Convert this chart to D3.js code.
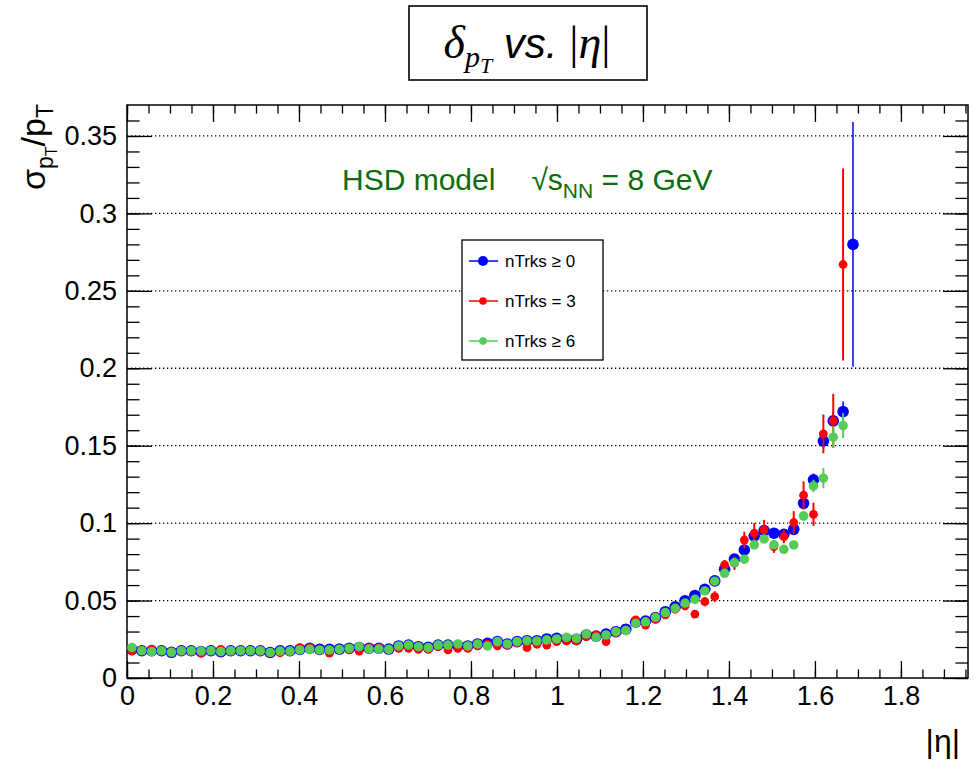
<!DOCTYPE html>
<html><head><meta charset="utf-8">
<script src="https://cdn.jsdelivr.net/npm/d3@7"></script>
<style>body{margin:0;background:#fff}svg{display:block}</style>
</head><body><svg id="c" width="974" height="760"></svg>
<script>
// ---- data ----
const eta = [0.0115,0.0345,0.0574,0.0804,0.1034,0.1264,0.1493,0.1723,0.1953,0.2182,
0.2412,0.2642,0.2872,0.3101,0.3331,0.3561,0.3791,0.4020,0.4250,0.4480,
0.4709,0.4939,0.5169,0.5399,0.5628,0.5858,0.6088,0.6318,0.6547,0.6777,
0.7007,0.7236,0.7466,0.7696,0.7926,0.8155,0.8385,0.8615,0.8845,0.9074,
0.9304,0.9534,0.9764,0.9993,1.0223,1.0453,1.0682,1.0912,1.1142,1.1372,
1.1601,1.1831,1.2061,1.2291,1.2520,1.2750,1.2980,1.3209,1.3439,1.3669,
1.3899,1.4128,1.4358,1.4588,1.4818,1.5047,1.5277,1.5507,1.5736,1.5966,
1.6196,1.6426,1.6655,1.6885];

const seriesNames = ["nTrks \u2265 0", "nTrks = 3", "nTrks \u2265 6"];

const resAll = [0.0185,0.0176,0.0176,0.0176,0.0166,0.0176,0.0176,0.0170,0.0176,0.0170,
0.0176,0.0176,0.0176,0.0176,0.0165,0.0176,0.0176,0.0185,0.0192,0.0185,
0.0185,0.0187,0.0192,0.0196,0.0192,0.0192,0.0187,0.0207,0.0213,0.0202,
0.0198,0.0213,0.0213,0.0207,0.0207,0.0220,0.0224,0.0235,0.0220,0.0235,
0.0241,0.0241,0.0252,0.0256,0.0252,0.0250,0.0278,0.0271,0.0284,0.0299,
0.0315,0.0360,0.0368,0.0390,0.0428,0.0460,0.0499,0.0533,0.0573,0.0627,
0.0702,0.0768,0.0827,0.0917,0.0952,0.0935,0.0928,0.0960,0.1128,0.1280,
0.1530,0.1660,0.1720,0.2800];
const errAll = [0.0004,0.0004,0.0004,0.0004,0.0004,0.0004,0.0004,0.0004,0.0004,0.0004,
0.0004,0.0004,0.0004,0.0004,0.0004,0.0004,0.0004,0.0004,0.0004,0.0004,
0.0004,0.0004,0.0004,0.0004,0.0004,0.0004,0.0004,0.0004,0.0004,0.0004,
0.0004,0.0004,0.0004,0.0004,0.0004,0.0004,0.0004,0.0004,0.0004,0.0004,
0.0004,0.0004,0.0004,0.0004,0.0004,0.0004,0.0004,0.0004,0.0004,0.0004,
0.0010,0.0010,0.0010,0.0010,0.0010,0.0010,0.0010,0.0012,0.0012,0.0015,
0.0020,0.0020,0.0025,0.0025,0.0030,0.0030,0.0030,0.0035,0.0040,0.0040,
0.0050,0.0060,0.0065,0.0790];

const res3 = [0.0174,0.0178,0.0187,0.0176,0.0170,0.0170,0.0170,0.0160,0.0176,0.0185,
0.0170,0.0176,0.0176,0.0170,0.0162,0.0163,0.0170,0.0196,0.0196,0.0181,
0.0160,0.0187,0.0181,0.0174,0.0196,0.0196,0.0181,0.0192,0.0192,0.0185,
0.0185,0.0202,0.0181,0.0192,0.0192,0.0207,0.0218,0.0207,0.0213,0.0228,
0.0196,0.0218,0.0213,0.0235,0.0239,0.0239,0.0267,0.0278,0.0235,0.0293,
0.0310,0.0375,0.0342,0.0379,0.0407,0.0444,0.0465,0.0413,0.0493,0.0525,
0.0730,0.0741,0.0891,0.0935,0.0956,0.0848,0.0913,0.1004,0.1180,0.1057,
0.1576,0.1660,0.2670,null];
const err3 = [0.0008,0.0008,0.0008,0.0008,0.0008,0.0008,0.0008,0.0008,0.0008,0.0008,
0.0008,0.0008,0.0008,0.0008,0.0008,0.0008,0.0008,0.0008,0.0008,0.0008,
0.0008,0.0008,0.0008,0.0008,0.0008,0.0008,0.0008,0.0008,0.0008,0.0008,
0.0008,0.0008,0.0008,0.0008,0.0008,0.0008,0.0008,0.0008,0.0008,0.0008,
0.0008,0.0008,0.0008,0.0008,0.0008,0.0008,0.0008,0.0008,0.0008,0.0008,
0.0015,0.0015,0.0015,0.0015,0.0015,0.0015,0.0020,0.0025,0.0030,0.0035,
0.0032,0.0043,0.0054,0.0065,0.0065,0.0040,0.0043,0.0073,0.0090,0.0075,
0.0125,0.0175,0.0620,null];

const res6 = [0.0196,0.0176,0.0170,0.0176,0.0166,0.0176,0.0176,0.0174,0.0176,0.0170,
0.0176,0.0176,0.0176,0.0176,0.0165,0.0174,0.0174,0.0181,0.0185,0.0181,
0.0181,0.0185,0.0192,0.0202,0.0187,0.0187,0.0185,0.0207,0.0213,0.0202,
0.0196,0.0213,0.0213,0.0220,0.0207,0.0220,0.0207,0.0235,0.0220,0.0235,
0.0241,0.0239,0.0246,0.0252,0.0263,0.0256,0.0284,0.0263,0.0278,0.0299,
0.0306,0.0353,0.0363,0.0392,0.0422,0.0450,0.0484,0.0508,0.0562,0.0625,
0.0676,0.0745,0.0767,0.0860,0.0898,0.0860,0.0831,0.0859,0.1046,0.1240,
0.1290,0.1555,0.1630,null];
const err6 = [0.0004,0.0004,0.0004,0.0004,0.0004,0.0004,0.0004,0.0004,0.0004,0.0004,
0.0004,0.0004,0.0004,0.0004,0.0004,0.0004,0.0004,0.0004,0.0004,0.0004,
0.0004,0.0004,0.0004,0.0004,0.0004,0.0004,0.0004,0.0004,0.0004,0.0004,
0.0004,0.0004,0.0004,0.0004,0.0004,0.0004,0.0004,0.0004,0.0004,0.0004,
0.0004,0.0004,0.0004,0.0004,0.0004,0.0004,0.0004,0.0004,0.0004,0.0004,
0.0010,0.0010,0.0010,0.0010,0.0010,0.0010,0.0010,0.0012,0.0012,0.0015,
0.0020,0.0020,0.0020,0.0020,0.0020,0.0020,0.0020,0.0025,0.0030,0.0040,
0.0065,0.0070,0.0080,null];

const xTicks = [0,0.2,0.4,0.6,0.8,1,1.2,1.4,1.6,1.8];
const xTickLabels = ["0","0.2","0.4","0.6","0.8","1","1.2","1.4","1.6","1.8"];
const yTicks = [0,0.05,0.1,0.15,0.2,0.25,0.3,0.35];
const yTickLabels = ["0","0.05","0.1","0.15","0.2","0.25","0.3","0.35"];

// ---- layout ----
const L = 127, R = 968, T = 105, B = 678;
const svg = d3.select("#c");
const x = d3.scaleLinear().domain([0, 1.956]).range([L, R]);
const y = d3.scaleLinear().domain([0, 0.37]).range([B, T]);
const FONT = "'Liberation Sans', Arial, Helvetica, sans-serif";
const SERIF = "'Liberation Serif', 'Times New Roman', serif";

// grid
svg.append("g").selectAll("line").data(yTicks.filter(d => d > 0)).join("line")
  .attr("x1", L).attr("x2", R).attr("y1", d => y(d)).attr("y2", d => y(d))
  .attr("stroke", "#000").attr("stroke-width", 1.3).attr("stroke-dasharray", "1.3,2.7");

// axes
const xMinor = d3.range(0, 1.956, 0.05).map(v => +v.toFixed(2));
const yMinor = d3.range(0, 0.37, 0.01).map(v => +v.toFixed(2));
function styleAxis(g){ g.select(".domain").remove(); g.selectAll("line").attr("stroke","#000").attr("stroke-width",1.3); g.selectAll("text").attr("font-family",FONT).attr("font-size",27).attr("fill","#000"); }

svg.append("g").attr("transform",`translate(0,${B})`)
  .call(d3.axisBottom(x).tickValues(xMinor).tickSize(-8.6).tickFormat(""))
  .call(styleAxis);
svg.append("g").attr("transform",`translate(0,${B})`)
  .call(d3.axisBottom(x).tickValues(xTicks).tickSize(-17).tickPadding(8)
     .tickFormat((d,i) => xTickLabels[i]))
  .call(styleAxis);
svg.append("g").attr("transform",`translate(0,${T})`)
  .call(d3.axisTop(x).tickValues(xMinor).tickSize(-8.6).tickFormat("")).call(styleAxis);
svg.append("g").attr("transform",`translate(0,${T})`)
  .call(d3.axisTop(x).tickValues(xTicks).tickSize(-17).tickFormat("")).call(styleAxis);

svg.append("g").attr("transform",`translate(${L},0)`)
  .call(d3.axisLeft(y).tickValues(yMinor).tickSize(-12.6).tickFormat("")).call(styleAxis);
svg.append("g").attr("transform",`translate(${L},0)`)
  .call(d3.axisLeft(y).tickValues(yTicks).tickSize(-25).tickPadding(10)
     .tickFormat((d,i) => yTickLabels[i]))
  .call(styleAxis);
svg.append("g").attr("transform",`translate(${R},0)`)
  .call(d3.axisRight(y).tickValues(yMinor).tickSize(-12.6).tickFormat("")).call(styleAxis);
svg.append("g").attr("transform",`translate(${R},0)`)
  .call(d3.axisRight(y).tickValues(yTicks).tickSize(-25).tickFormat("")).call(styleAxis);

// frame
svg.append("rect").attr("x",L).attr("y",T).attr("width",R-L).attr("height",B-T)
  .attr("fill","none").attr("stroke","#000").attr("stroke-width",1.5);

// series
const series = [
  {name: seriesNames[0], vals: resAll, errs: errAll, color: "#0000ff", r: 5.8, ew: 1.5, lr: 5},
  {name: seriesNames[1], vals: res3, errs: err3, color: "#ff0000", r: 4.4, ew: 2, lr: 3.8},
  {name: seriesNames[2], vals: res6, errs: err6, color: "#55cc55", r: 4.8, ew: 2, lr: 3.8}
];
svg.append("clipPath").attr("id","pc").append("rect")
  .attr("x",L).attr("y",T).attr("width",R-L).attr("height",B-T);
series.forEach(s => {
  const pts = eta.map((e,i) => ({e, v: s.vals[i], er: s.errs[i]})).filter(p => p.v != null);
  const g = svg.append("g").attr("clip-path","url(#pc)");
  g.selectAll("line").data(pts).join("line")
    .attr("x1", p => x(p.e)).attr("x2", p => x(p.e))
    .attr("y1", p => y(p.v - p.er)).attr("y2", p => y(p.v + p.er))
    .attr("stroke", s.color).attr("stroke-width", s.ew);
  g.selectAll("circle").data(pts).join("circle")
    .attr("cx", p => x(p.e)).attr("cy", p => y(p.v)).attr("r", s.r)
    .attr("fill", s.color);
});

// legend
const lg = svg.append("g");
lg.append("rect").attr("x",462).attr("y",240).attr("width",141).attr("height",120)
  .attr("fill","#fff").attr("stroke","#000").attr("stroke-width",1.3);
series.forEach((s,i) => {
  const yy = 261 + i*40;
  lg.append("line").attr("x1",469).attr("x2",498).attr("y1",yy).attr("y2",yy)
    .attr("stroke",s.color).attr("stroke-width",1.5);
  lg.append("circle").attr("cx",483).attr("cy",yy).attr("r",s.lr).attr("fill",s.color);
  lg.append("text").attr("x",505).attr("y",yy+6).attr("font-family",FONT).attr("font-size",17)
    .text(s.name);
});

// HSD text
const ht = svg.append("text").attr("x",342).attr("y",190).attr("font-family",FONT)
  .attr("font-size",30).attr("fill","#0b6e0b");
ht.append("tspan").text("HSD model");
ht.append("tspan").attr("dx",36).text("\u221As");
ht.append("tspan").attr("font-size",21).attr("dy",8).text("NN");
ht.append("tspan").attr("dy",-8).text(" = 8 GeV");

// title box
svg.append("rect").attr("x",409).attr("y",6).attr("width",238).attr("height",74)
  .attr("fill","#fff").attr("stroke","#000").attr("stroke-width",1.6);
const tt = svg.append("text").attr("x",527).attr("y",58).attr("text-anchor","middle")
  .attr("font-size",46);
tt.append("tspan").attr("font-family",SERIF).attr("font-style","italic").text("\u03B4");
tt.append("tspan").attr("font-family",SERIF).attr("font-style","italic").attr("font-size",30).attr("dy",9).text("p");
tt.append("tspan").attr("font-family",SERIF).attr("font-style","italic").attr("font-size",22).attr("dy",6).text("T");
tt.append("tspan").attr("font-family",FONT).attr("font-style","italic").attr("font-size",42).attr("dy",-15).text(" vs. ");
tt.append("tspan").attr("font-family",SERIF).text("|");
tt.append("tspan").attr("font-family",SERIF).attr("font-style","italic").text("\u03B7");
tt.append("tspan").attr("font-family",SERIF).text("|");

// y label
const yl = svg.append("text").attr("transform","translate(45,104) rotate(-90)")
  .attr("text-anchor","end").attr("font-family",FONT).attr("font-size",34);
yl.append("tspan").text("\u03C3");
yl.append("tspan").attr("font-size",23).attr("dy",8).text("p");
yl.append("tspan").attr("font-size",16).attr("dy",4).text("T");
yl.append("tspan").attr("dy",-12).text("/p");
yl.append("tspan").attr("font-size",23).attr("dy",8).text("T");

// x label
svg.append("text").attr("x",960).attr("y",752).attr("text-anchor","end")
  .attr("font-family",FONT).attr("font-size",32).text("|\u03B7|");
</script></body></html>
